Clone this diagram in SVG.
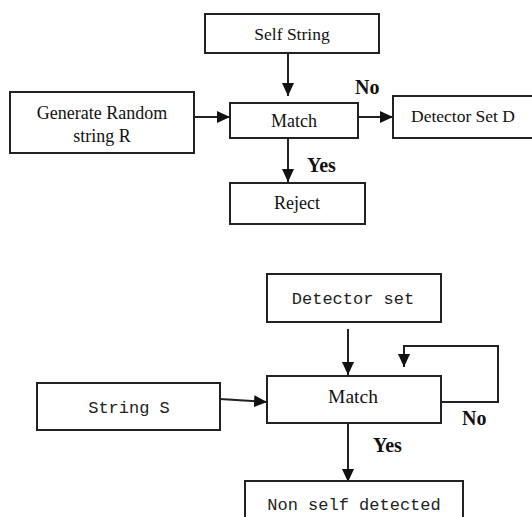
<svg xmlns="http://www.w3.org/2000/svg" width="532" height="517" viewBox="0 0 532 517">
<defs>
<style>
.box{fill:#fff;stroke:#222;stroke-width:2}
.ln{fill:none;stroke:#222;stroke-width:2}
.ser{font-family:"Liberation Serif","Times New Roman",serif;fill:#111;text-anchor:middle}
.mono{font-family:"Liberation Mono","DejaVu Sans Mono",monospace;fill:#222;text-anchor:middle;font-size:17px}
.lbl{font-family:"Liberation Serif","Times New Roman",serif;font-weight:bold;fill:#111;font-size:20px}
</style>
<marker id="ah" markerWidth="13" markerHeight="12" refX="13" refY="6" orient="auto" markerUnits="userSpaceOnUse">
<path d="M0,0 L13,6 L0,12 Z" fill="#111"/>
</marker>
</defs>
<rect width="532" height="517" fill="#fff"/>

<g id="connectors">
<line class="ln" x1="288" y1="54" x2="288" y2="96" marker-end="url(#ah)"/>
<line class="ln" x1="194" y1="117" x2="230" y2="117" marker-end="url(#ah)"/>
<line class="ln" x1="358" y1="117" x2="393" y2="117" marker-end="url(#ah)"/>
<line class="ln" x1="288" y1="138" x2="288" y2="182" marker-end="url(#ah)"/>
<line class="ln" x1="348" y1="329" x2="348" y2="375" marker-end="url(#ah)"/>
<polyline class="ln" points="441,402 498,402 498,346 404,346 404,367" marker-end="url(#ah)"/>
<line class="ln" x1="220" y1="399" x2="267" y2="402" marker-end="url(#ah)"/>
<line class="ln" x1="348" y1="423" x2="348" y2="482" marker-end="url(#ah)"/>
<text class="lbl" x="355" y="94">No</text>
<text class="lbl" x="307" y="172">Yes</text>
<text class="lbl" x="462" y="425">No</text>
<text class="lbl" x="373" y="452">Yes</text>
</g>

<g id="self-string">
<rect class="box" x="205" y="14" width="174" height="39"/>
<text class="ser" x="292" y="40" font-size="17.5">Self String</text>
</g>
<g id="generate-random">
<rect class="box" x="10" y="92" width="184" height="61"/>
<text class="ser" x="102" y="119" font-size="18">Generate Random</text>
<text class="ser" x="102" y="142" font-size="18">string R</text>
</g>
<g id="match-1">
<rect class="box" x="230" y="103" width="128" height="35"/>
<text class="ser" x="294" y="127" font-size="18">Match</text>
</g>
<g id="detector-set-d">
<rect class="box" x="393" y="96" width="145" height="42"/>
<text class="ser" x="463" y="122" font-size="17.5">Detector Set D</text>
</g>
<g id="reject">
<rect class="box" x="230" y="183" width="135" height="41"/>
<text class="ser" x="297" y="209" font-size="18">Reject</text>
</g>

<g id="detector-set">
<rect class="box" x="267" y="274" width="174" height="48"/>
<text class="mono" x="353" y="304">Detector set</text>
</g>
<g id="match-2">
<rect class="box" x="267" y="376" width="174" height="47"/>
<text class="ser" x="353" y="403" font-size="19.5">Match</text>
</g>
<g id="string-s">
<rect class="box" x="37" y="383" width="183" height="47"/>
<text class="mono" x="129" y="413">String S</text>
</g>
<g id="non-self-detected">
<rect class="box" x="245" y="481" width="218" height="45"/>
<text class="mono" x="354" y="510">Non self detected</text>
</g>
</svg>
